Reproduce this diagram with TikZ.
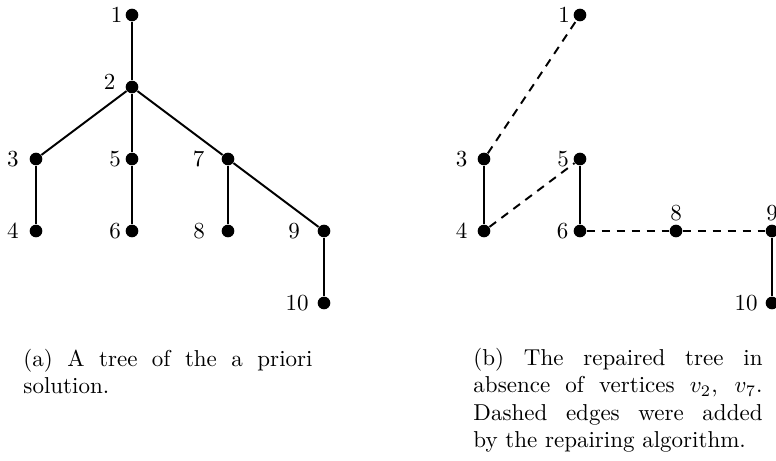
\documentclass[tikz,border=0pt]{standalone}
\usepackage{amsmath}
\begin{document}
\begin{tikzpicture}[x=0.4348pt,y=-0.4348pt,
  dot/.style={circle,fill=black,inner sep=0pt,minimum size=5.5pt},
  lab/.style={inner sep=0pt,anchor=center},
  soledge/.style={line width=0.85pt},
  dashedge/.style={line width=0.85pt,dash pattern=on 3.6pt off 2.9pt},
  capt/.style={inner sep=0pt,anchor=base west,text width=125.7pt,align=justify}]
\useasboundingbox (0,0) rectangle (776,460);
% ---- left tree
\node[dot] (a1) at (132,15) {};
\node[dot] (a2) at (132,87) {};
\node[dot] (a3) at (36,159) {};
\node[dot] (a5) at (132,159) {};
\node[dot] (a7) at (228,159) {};
\node[dot] (a4) at (36,231) {};
\node[dot] (a6) at (132,231) {};
\node[dot] (a8) at (228,231) {};
\node[dot] (a9) at (324,231) {};
\node[dot] (a10) at (324,303) {};
\node[lab] (la1) at (116.7,15) {1};
\node[lab] (la2) at (109.5,82) {2};
\node[lab] (la3) at (12.8,159) {3};
\node[lab] (la5) at (115,159) {5};
\node[lab] (la7) at (198.7,159) {7};
\node[lab] (la4) at (12.8,231) {4};
\node[lab] (la6) at (115,231) {6};
\node[lab] (la8) at (199,231) {8};
\node[lab] (la9) at (294,231) {9};
\node[lab] (la10) at (297,303) {10};
\draw[soledge] (a1) -- (a2);
\draw[soledge] (a2) -- (a3);
\draw[soledge] (a2) -- (a5);
\draw[soledge] (a2) -- (a7);
\draw[soledge] (a7) -- (a9);
\draw[soledge] (a3) -- (a4);
\draw[soledge] (a5) -- (a6);
\draw[soledge] (a7) -- (a8);
\draw[soledge] (a9) -- (a10);
% ---- right tree
\node[dot] (b1) at (580,15) {};
\node[dot] (b3) at (484,159) {};
\node[dot] (b5) at (580,159) {};
\node[dot] (b4) at (484,231) {};
\node[dot] (b6) at (580,231) {};
\node[dot] (b8) at (676,231) {};
\node[dot] (b9) at (772,231) {};
\node[dot] (b10) at (772,303) {};
\node[lab] (lb1) at (564,15) {1};
\node[lab] (lb3) at (461.7,159) {3};
\node[lab] (lb5) at (563,159) {5};
\node[lab] (lb4) at (461.7,231) {4};
\node[lab] (lb6) at (562.7,231) {6};
\node[lab] (lb8) at (676,213) {8};
\node[lab] (lb9) at (772,213) {9};
\node[lab] (lb10) at (746,303) {10};
\draw[dashedge] (b3) -- (b1);
\draw[dashedge] (b4) -- (b5);
\draw[dashedge] (b6) -- (b8);
\draw[dashedge] (b8) -- (b9);
\draw[soledge] (b3) -- (b4);
\draw[soledge] (b5) -- (b6);
\draw[soledge] (b9) -- (b10);
% ---- captions
\node[capt] (capa) at (23,366) {(a) A tree of the a priori\linebreak solution.};
\node[capt] (capb) at (473,365) {(b) The repaired tree in\linebreak absence of vertices $v_2$, $v_7$.\linebreak Dashed edges were added\linebreak by the repairing algorithm.};
\end{tikzpicture}
\end{document}
